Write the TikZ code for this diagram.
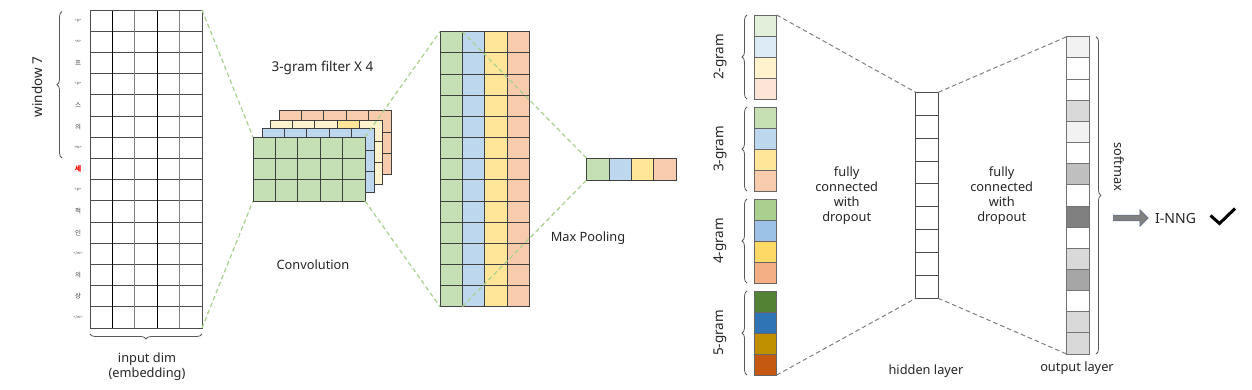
\documentclass[tikz,border=0pt]{standalone}
\usepackage{fontspec}
\setmainfont{Noto Sans}
\newfontfamily\krfont{Noto Sans CJK KR}
\usetikzlibrary{shapes.arrows,decorations.pathreplacing}
\definecolor{cF1}{HTML}{C5E0B4}
\definecolor{cF2}{HTML}{BDD7EE}
\definecolor{cF3}{HTML}{FFF2CC}
\definecolor{cF3d}{HTML}{FFE699}
\definecolor{cF4}{HTML}{F8CBAD}
\definecolor{c2a}{HTML}{E2EFDA}
\definecolor{c2b}{HTML}{DDEBF7}
\definecolor{c2c}{HTML}{FFF2CC}
\definecolor{c2d}{HTML}{FCE4D6}
\definecolor{c3a}{HTML}{C6E0B4}
\definecolor{c3b}{HTML}{BDD7EE}
\definecolor{c3c}{HTML}{FFE699}
\definecolor{c3d}{HTML}{F8CBAD}
\definecolor{c4a}{HTML}{A9D08E}
\definecolor{c4b}{HTML}{9BC2E6}
\definecolor{c4c}{HTML}{FFD966}
\definecolor{c4d}{HTML}{F4B084}
\definecolor{c5a}{HTML}{548235}
\definecolor{c5b}{HTML}{2F75B5}
\definecolor{c5c}{HTML}{BF8F00}
\definecolor{c5d}{HTML}{C65911}
\definecolor{dgreen}{HTML}{A9D18E}
\definecolor{arrfill}{HTML}{808080}
\definecolor{arredge}{HTML}{5A6A86}
\tikzset{
  blk/.style={inner sep=0pt, outer sep=0pt, anchor=north west},
  gdash/.style={draw=dgreen, dash pattern=on 4.5pt off 3pt, line width=1.2pt},
  kdash/.style={draw=black!50, dash pattern=on 4.5pt off 3pt, line width=1pt},
  brc/.style={decorate, decoration={brace, amplitude=5pt}, draw=black!65, line width=0.8pt},
  lbl/.style={font=\fontsize{12.8}{15}\selectfont, text=black!85, inner sep=0pt, align=center},
  tokA/.style={font=\krfont\fontsize{3.8}{4}\selectfont, text=black!70, inner sep=0pt},
  tokK/.style={font=\krfont\fontsize{6.5}{7}\selectfont, text=black!75, inner sep=0pt},
  fline/.style={draw=black!75, line width=0.8pt}
}
\newcommand\fltr[4]{%
  \node[blk, fill=#3, minimum width=112pt, minimum height=64pt] (#4) at (#1,#2) {};
  \foreach \i in {1,2} \draw[fline] (#1,{#2+\i*21.33}) -- ({#1+112},{#2+\i*21.33});
  \foreach \j in {1,...,4} \draw[fline] ({#1+\j*22.4},#2) -- ({#1+\j*22.4},{#2+64});
  \draw[fline] (#4.north west) rectangle (#4.south east);
}
\begin{document}
\begin{tikzpicture}[x=1pt,y=-1pt]
\useasboundingbox[fill=white] (0,0) rectangle (1252,389);

% ---------- input grid ----------
\node[blk, minimum width=112pt, minimum height=318pt] (inp) at (90,10) {};
\foreach \i in {1,...,14} \draw[draw=black!70, line width=0.8pt] (90,{10+\i*21.2}) -- (202,{10+\i*21.2});
\foreach \j in {2,4} \draw[draw=black!50, line width=0.8pt] ({90+\j*22.4},10) -- ({90+\j*22.4},328);
\foreach \j in {1,3} \draw[draw=black, line width=1pt] ({90+\j*22.4},10) -- ({90+\j*22.4},328);
\draw[draw=black!70, line width=0.8pt] (inp.north west) rectangle (inp.south east);

% tokens
\foreach \r/\t in {1/{<p>},2/{<s>},4/{<p>},7/{<w>},9/{<p>},12/{</w>},15/{</w>}}
  \node[tokA] (tokA\r) at (78,{10+(\r-0.5)*21.2}) {\t};
\foreach \r/\t in {3/프,5/스,6/의,10/적,11/인,13/의,14/상}
  \node[tokK] (tokK\r) at (78,{10+(\r-0.5)*21.2}) {\t};
\node[tokK, text=red, font=\krfont\bfseries\fontsize{7}{8}\selectfont] (tokred) at (78,{10+7.5*21.2}) {세};

% window brace
\coordinate (wtop) at (62,11.5);
\coordinate (wbot) at (62,158);
\draw[brc] (wbot) -- (wtop);
\node[lbl, rotate=90, font=\fontsize{13.5}{15}\selectfont] (win) at (37,87) {window 7};

% input dim brace
\draw[brc] ([yshift=-6pt]inp.south east) -- ([yshift=-6pt]inp.south west);
\node[lbl] (indim) at (147,366.5) {input dim\\(embedding)};

% dashed lines input -> filter
\coordinate (f1tl) at (253,137);
\coordinate (f1bl) at (253,201);
\draw[gdash] (inp.north east) -- (f1tl);
\draw[gdash] (inp.south east) -- (f1bl);

% ---------- filters ----------
\fltr{279}{110.7}{cF4}{f4}
\fltr{270}{120}{cF3}{f3}
\fill[cF3d] (337.2,120) rectangle (359.6,141.33);
\draw[fline] (337.2,120) rectangle (359.6,141.33);
\fltr{262}{128.7}{cF2}{f2}
\fltr{253}{137}{cF1}{f1}
\node[lbl, font=\fontsize{13.5}{15}\selectfont] (ftxt) at (322.5,68) {3-gram filter X 4};
\node[lbl] (conv) at (313,265) {Convolution};

% ---------- feature map ----------
\node[blk, minimum width=89.3pt, minimum height=275pt] (fm) at (440,31.7) {};
\fill[cF1] (440,31.7) rectangle (462.3,306.7);
\fill[cF2] (462.3,31.7) rectangle (484.6,306.7);
\fill[cF3d] (484.6,31.7) rectangle (507,306.7);
\fill[cF4] (507,31.7) rectangle (529.3,306.7);
\foreach \i in {1,...,12} \draw[fline] (440,{31.7+\i*21.154}) -- (529.3,{31.7+\i*21.154});
\foreach \x in {462.3,484.6,507} \draw[fline] (\x,31.7) -- (\x,306.7);
\draw[fline] (fm.north west) rectangle (fm.south east);

\draw[gdash] (f1.north east) -- (fm.north west);
\draw[gdash] (f1.south east) -- (fm.south west);

% ---------- pooled ----------
\node[blk, minimum width=89.3pt, minimum height=21.7pt] (pv) at (586.7,158.3) {};
\fill[cF1] (586.7,158.3) rectangle (609,180);
\fill[cF2] (609,158.3) rectangle (631.3,180);
\fill[cF3d] (631.3,158.3) rectangle (653.7,180);
\fill[cF4] (653.7,158.3) rectangle (676,180);
\foreach \x in {609,631.3,653.7} \draw[fline] (\x,158.3) -- (\x,180);
\draw[fline] (pv.north west) rectangle (pv.south east);
\coordinate (fmgt) at (462.3,31.7);
\coordinate (fmgb) at (462.3,306.7);
\draw[gdash] (fmgt) -- (pv.north west);
\draw[gdash] (fmgb) -- (pv.south west);
\node[lbl] (mp) at (588,238) {Max Pooling};

% ---------- concatenated vector ----------
\foreach \k/\a/\b/\c/\d in {2/c2a/c2b/c2c/c2d,3/c3a/c3b/c3c/c3d,4/c4a/c4b/c4c/c4d,5/c5a/c5b/c5c/c5d} {
  \node[blk, minimum width=22.7pt, minimum height=84pt] (g\k) at (754,{15+(\k-2)*92}) {};
  \foreach \cc [count=\m from 0] in {\a,\b,\c,\d}
    \draw[fill=\cc, draw=black!60, line width=0.8pt] (754,{15+(\k-2)*92+\m*21}) rectangle (776.7,{15+(\k-2)*92+(\m+1)*21});
  \draw[brc] ([xshift=-7pt]g\k.south west) -- ([xshift=-7pt]g\k.north west);
  \node[lbl, rotate=90, font=\fontsize{13.5}{15}\selectfont] (gl\k) at ([xshift=-34pt]g\k.west) {\k-gram};
}

% ---------- hidden layer ----------
\node[blk, minimum width=22.6pt, minimum height=206pt] (hl) at (915.7,92.3) {};
\foreach \i in {1,...,8} \draw[draw=black!70, line width=0.8pt] (915.7,{92.3+\i*22.89}) -- (938.3,{92.3+\i*22.89});
\draw[draw=black!70, line width=0.8pt] (hl.north west) rectangle (hl.south east);

\draw[kdash] (g2.north east) -- (hl.north west);
\draw[kdash] (g5.south east) -- (hl.south west);

% ---------- output layer ----------
\node[blk, minimum width=22.3pt, minimum height=317.3pt] (ol) at (1066.7,36.7) {};
\foreach \cc [count=\m from 0] in {black!5,white,white,black!15,black!5,white,black!25,white,black!50,white,black!15,black!35,white,black!15,black!15}
  \draw[fill=\cc, draw=black!55, line width=0.8pt] (1066.7,{36.7+\m*21.153}) rectangle (1089,{36.7+(\m+1)*21.153});
\draw[draw=black!55, line width=0.8pt] (ol.north west) rectangle (ol.south east);

\draw[kdash] (hl.north east) -- (ol.north west);
\draw[kdash] (hl.south east) -- (ol.south west);

\draw[brc] ([xshift=7pt]ol.north east) -- ([xshift=7pt]ol.south east);
\node[lbl, rotate=-90] (sm) at (1119,166.7) {softmax};

\node[lbl] (fc1) at (846.7,196) {fully\\connected\\with\\dropout};
\node[lbl] (fc2) at (1001.7,196) {fully\\connected\\with\\dropout};
\node[lbl] (hlt) at (926,371) {hidden layer};
\node[lbl] (olt) at (1077,368) {output layer};

% ---------- result ----------
\node[single arrow, fill=arrfill, draw=arredge, line width=0.6pt, inner sep=2.6pt,
      minimum height=35pt, minimum width=16pt, single arrow head extend=5.5pt,
      anchor=west] (arr) at (1113,218) {};
\node[lbl, anchor=west, font=\fontsize{14}{15}\selectfont] (res) at (1155,218) {I-NNG};
\draw[line width=3pt, line join=miter] (1210.5,215.5) -- (1219.5,223.5) -- (1235,208.5);
\end{tikzpicture}
\end{document}
